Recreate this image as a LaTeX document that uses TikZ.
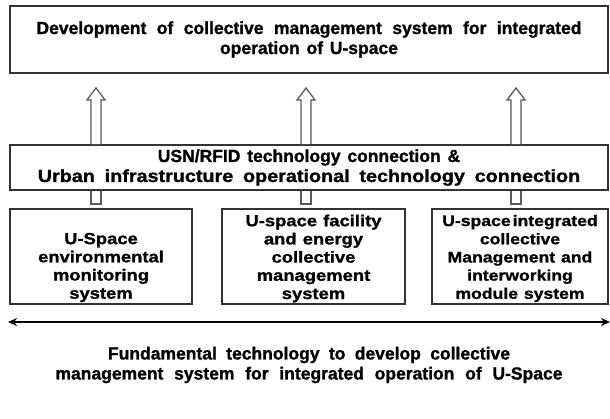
\documentclass[tikz,border=0pt]{standalone}
\usepackage{fontspec}
\usepackage{graphicx}
\setmainfont{Liberation Sans}[WordSpace=1.4,BoldFeatures={FakeBold=1.2}]
\newfontfamily\boxfont{Liberation Sans}[FakeStretch=1.15,WordSpace=1.2,BoldFeatures={FakeBold=1.2}]
\usetikzlibrary{arrows.meta,calc}
\newcommand{\fitline}[2]{\makebox[#1pt][s]{#2}}
\tikzset{
  boxstyle/.style={draw=black!80,line width=1.6pt,fill=white,inner sep=0pt,font=\bfseries},
  hollow/.style={draw=black!65,line width=1.3pt,fill=white,line join=miter},
  bigtxt/.style={font=\fontsize{17.5}{20}\selectfont\bfseries,align=center},
  boxtxt/.style={font=\boxfont\fontsize{16}{18.2}\selectfont\bfseries,align=center},
  baseline2/.style={line width=2.6pt,{Stealth[length=9pt,width=8pt]}-{Stealth[length=9pt,width=8pt]}}
}
\begin{document}
\begin{tikzpicture}[x=1pt,y=-1pt]
\useasboundingbox (0,0) rectangle (610,419);
% boxes
\node[boxstyle,minimum width=598pt,minimum height=67pt] (top) at (309,39.5) {};
\node[bigtxt] (toptxt) at (top.center) {\fitline{545}{Development of collective management system for integrated}\\operation of U-space};
\node[boxstyle,minimum width=598pt,minimum height=45pt] (mid) at (309,167.5) {};
\node[bigtxt] (midtxt) at (mid.center) {USN/RFID technology connection \&\\\scalebox{1.13}[1]{\fitline{480}{Urban infrastructure operational technology connection}}};
\node[boxstyle,minimum width=182pt,minimum height=95pt] (b1) at (101,256.5) {};
\node[boxstyle,minimum width=183pt,minimum height=95pt] (b2) at (313.5,256.5) {};
\node[boxstyle,minimum width=176pt,minimum height=95pt] (b3) at (520,256.5) {};
\node[boxtxt] (t1) at (101,267.5) {U-Space\\environmental\\monitoring\\system};
\node[boxtxt] (t2) at (313.5,258.5) {U-space facility\\and energy\\collective\\management\\system};
\node[boxtxt,font=\boxfont\fontsize{15.3}{18.2}\selectfont\bfseries] (t3) at (520,258.5) {U-space\hspace{2pt}integrated\\collective\\Management and\\interworking\\module system};
% hollow up arrows from mid to top
\foreach \cx in {96,306,516}{
  \draw[hollow] (\cx-5,0 |- mid.north) -- (\cx-5,100) -- (\cx-9,100) -- (\cx,88) -- (\cx+9,100) -- (\cx+5,100) -- (\cx+5,0 |- mid.north);
  \draw[hollow] (\cx-5,0 |- mid.south) -- (\cx-5,204) -- (\cx+5,204) -- (\cx+5,0 |- mid.south);
}
% baseline double arrow
\coordinate (la) at (8,322);
\coordinate (ra) at (610,322);
\draw[baseline2] (la) -- (ra);
\node[bigtxt] (bot) at (309,365) {\fitline{402}{Fundamental technology to develop collective}\\\fitline{507}{management system for integrated operation of U-Space}};
\end{tikzpicture}
\end{document}
